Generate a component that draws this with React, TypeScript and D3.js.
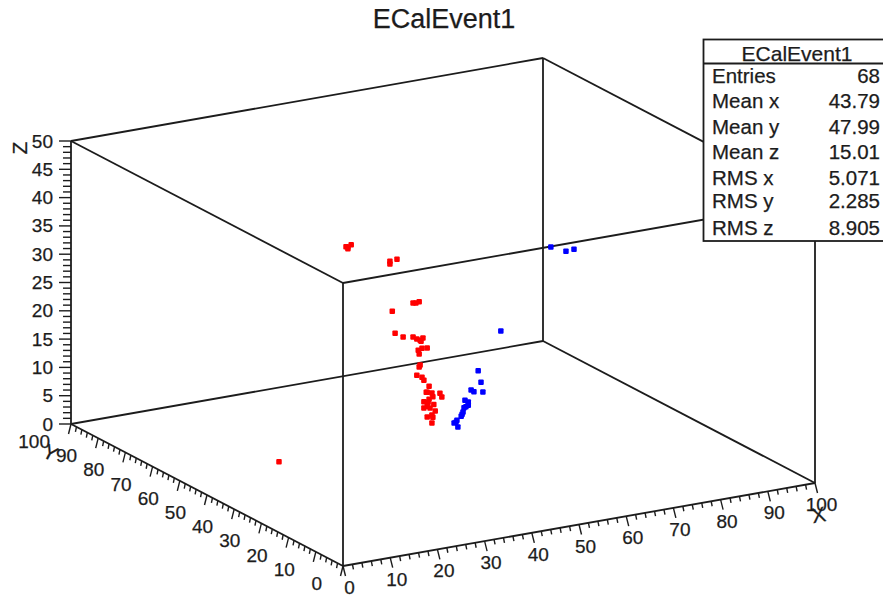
import React, { useEffect, useRef } from 'react';
import * as d3 from 'd3';

const title = 'ECalEvent1';

// hit coordinates; depth along y can't be separated, so mean y is used
const depthY = 48;
const redX = [28.3, 28.7, 29.4, 28.7, 37.6, 37.6, 39.1, 42.5, 43.1, 43.8, 38.1, 38.7, 40.4, 42.5, 43.3, 44.2, 44.6, 43.6, 44.4, 45.5, 43.8, 44, 43.8, 43.3, 44.4, 44.8, 45.9, 45.5, 46.5, 48.2, 48.6, 44.8, 45.7, 46.7, 45.5, 46.1, 47.2, 46.5, 45.5, 46.7, 46.5, 14.1, 44, 45.3, 45.9, 44.8, 46.9];
const redZ = [40.2, 40.1, 40.4, 39.8, 36.3, 35.8, 36.4, 28.2, 28.1, 28.2, 27.4, 23.4, 22.5, 22.2, 21.7, 21.2, 21.7, 19.7, 19.9, 19.8, 19, 17, 16.7, 15.3, 14.8, 14.2, 13, 12, 11.7, 11.4, 10.7, 10.4, 10.2, 11, 9.5, 9.1, 8.4, 7.8, 7.6, 7.4, 6.4, 4.3, 21.4, 12, 10.7, 9.3, 9.6];
const blueX = [71.7, 74.9, 76.6, 61.1, 56.3, 56.9, 57.3, 54.8, 55.4, 53.5, 54.2, 53.7, 54.2, 53.1, 52.7, 51.6, 52, 51.2, 53.3, 52.9, 51.8];
const blueZ = [33.8, 32.6, 32.7, 20.5, 14.2, 12.1, 10.3, 11, 10.6, 9.4, 9, 8.2, 8.4, 7.4, 6.7, 5.8, 4.9, 5.7, 8.1, 7, 6.1];

const statLabels = ['Entries', 'Mean x', 'Mean y', 'Mean z', 'RMS x', 'RMS y', 'RMS z'];
const statValues = ['68', '43.79', '47.99', '15.01', '5.071', '2.285', '8.905'];
const statBaselines = [83, 108, 134, 159, 185, 208, 235];

const xTicks = d3.range(0, 101, 10);
const yTicks = d3.range(0, 101, 10);
const zTicks = d3.range(0, 51, 5);

const FONT = '"Liberation Sans", Arial, sans-serif';
const INK = '#1c1c1c';

export default function App() {
  const ref = useRef<SVGSVGElement>(null);

  useEffect(() => {
    const svg = d3.select(ref.current);
    svg.selectAll('*').remove();

    // oblique projection of the box
    const xDx = d3.scaleLinear().domain([0, 100]).range([0, 472]);
    const xDy = d3.scaleLinear().domain([0, 100]).range([0, -83]);
    const yDx = d3.scaleLinear().domain([0, 100]).range([0, -272]);
    const yDy = d3.scaleLinear().domain([0, 100]).range([0, -142]);
    const zDy = d3.scaleLinear().domain([0, 50]).range([0, -283]);
    const px = (x: number, y: number) => 343 + xDx(x) + yDx(y);
    const py = (x: number, y: number, z: number) => 566 + xDy(x) + yDy(y) + zDy(z);

    const seg = (g: any, x1: number, y1: number, x2: number, y2: number, w = 1.8) =>
      g.append('line')
        .attr('x1', x1).attr('y1', y1).attr('x2', x2).attr('y2', y2)
        .attr('stroke', INK).attr('stroke-width', w);

    const edge = (g: any, a: number[], b: number[]) =>
      seg(g, px(a[0], a[1]), py(a[0], a[1], a[2]), px(b[0], b[1]), py(b[0], b[1], b[2]));

    const box = svg.append('g');
    const corners = [[0, 0], [100, 0], [100, 100], [0, 100]];
    corners.forEach((c, i) => {
      const n = corners[(i + 1) % 4];
      edge(box, [c[0], c[1], 0], [n[0], n[1], 0]);
      edge(box, [c[0], c[1], 50], [n[0], n[1], 50]);
      edge(box, [c[0], c[1], 0], [c[0], c[1], 50]);
    });

    // ticks
    const ticks = svg.append('g');
    d3.range(0, 101, 2).forEach((v) => {
      const major = v % 10 === 0;
      seg(ticks, px(v, 0), py(v, 0, 0), px(v, 0) + (major ? 2.5 : 1), py(v, 0, 0) + (major ? 10 : 5), 1.4);
      seg(ticks, px(0, v), py(0, v, 0), px(0, v) - (major ? 2.5 : 1), py(0, v, 0) + (major ? 10 : 5), 1.4);
    });
    d3.range(0, 51, 1).forEach((v) => {
      const major = v % 5 === 0;
      seg(ticks, px(0, 100), py(0, 100, v), px(0, 100) - (major ? 12 : 8), py(0, 100, v), 1.4);
    });

    const text = (s: string, x: number, y: number, anchor = 'middle', size = 19) =>
      svg.append('text')
        .attr('x', x).attr('y', y)
        .attr('text-anchor', anchor)
        .attr('font-family', FONT)
        .attr('font-size', size)
        .attr('fill', INK)
        .attr('stroke', INK)
        .attr('stroke-width', 0.25)
        .text(s);

    xTicks.forEach((v) => text(String(v), px(v, 0) + 6.5, py(v, 0, 0) + 28));
    yTicks.forEach((v) => text(String(v), px(0, v) - 21, py(0, v, 0) + 24, 'end'));
    zTicks.forEach((v) => text(String(v), 53, py(0, 100, v) + 6.5, 'end'));

    const axisTitle = (s: string, x: number, y: number, angle: number) =>
      text(s, 0, 0, 'middle', 21).attr('transform', `translate(${x},${y}) rotate(${angle})`);
    axisTitle('Z', 27, 148, -90);
    axisTitle('Y', 47, 459, 28);
    axisTitle('X', 820, 522, -10);

    // hits
    const hits = (xs: number[], zs: number[], color: string) =>
      svg.append('g')
        .selectAll('rect')
        .data(xs.map((x, i) => [x, zs[i]]))
        .join('rect')
        .attr('x', (d) => px(d[0], depthY) - 2.75)
        .attr('y', (d) => py(d[0], depthY, d[1]) - 2.75)
        .attr('width', 5.5)
        .attr('height', 5.5)
        .attr('rx', 1)
        .attr('fill', color);
    hits(redX, redZ, '#ff0000');
    hits(blueX, blueZ, '#0000ff');

    text(title, 444, 28, 'middle', 27);

    // stats box runs off the right edge
    svg.append('rect')
      .attr('x', 703.5).attr('y', 39.5).attr('width', 190).attr('height', 201.5)
      .attr('fill', '#fff').attr('stroke', INK).attr('stroke-width', 1.8);
    seg(svg, 703.5, 63.5, 883, 63.5);
    text(title, 797, 61, 'middle', 21);
    statLabels.forEach((s, i) => {
      text(s, 712, statBaselines[i], 'start', 20.5);
      text(statValues[i], 880, statBaselines[i], 'end', 20.5);
    });
  }, []);

  return (
    <svg
      ref={ref}
      width={883}
      height={597}
      style={{ position: 'absolute', left: 0, top: 0, background: '#fff' }}
    />
  );
}
